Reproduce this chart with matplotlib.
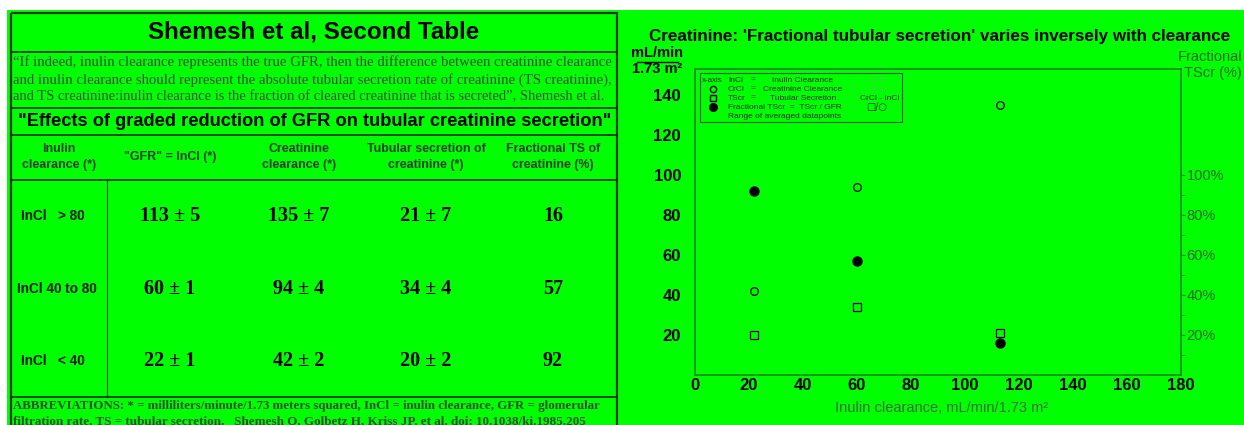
import matplotlib
matplotlib.use('Agg')
import matplotlib.pyplot as plt
from matplotlib.patches import Rectangle

plt.rcParams['font.family'] = ['Liberation Sans', 'DejaVu Sans']

W, H = 1244, 425
BG = '#00ff00'
DARK = '#0b3d0b'
FRAME = '#1a7f1a'

# ---------------- data ----------------
inulin_clearance = [113, 60, 22]
inulin_sd = [5, 1, 1]
creatinine_clearance = [135, 94, 42]
creatinine_sd = [7, 4, 2]
tubular_secretion = [21, 34, 20]
tubular_sd = [7, 4, 2]
fractional_ts = [16, 57, 92]
row_labels = ['InCl   > 80', 'InCl 40 to 80', 'InCl   < 40']
header_labels = ['Inulin\nclearance (*)', '"GFR" = InCl (*)', 'Creatinine\nclearance (*)',
                 'Tubular secretion of\ncreatinine (*)', 'Fractional TS of\ncreatinine (%)']
quote_lines = [
    '\u201cIf indeed, inulin clearance represents the true GFR, then the difference between creatinine clearance',
    'and inulin clearance should represent the absolute tubular secretion rate of creatinine (TS creatinine),',
    'and TS creatinine:inulin clearance is the fraction of cleared creatinine that is secreted\u201d, Shemesh et al.',
]
abbrev_lines = [
    'ABBREVIATIONS: * = milliliters/minute/1.73 meters squared, InCl = inulin clearance, GFR = glomerular',
    'filtration rate, TS = tubular secretion.   Shemesh O, Golbetz H, Kriss JP, et al. doi: 10.1038/ki.1985.205',
]
x_ticks = [0, 20, 40, 60, 80, 100, 120, 140, 160, 180]
y_ticks = [20, 40, 60, 80, 100, 120, 140]
pct_ticks = [20, 40, 60, 80, 100]
pct_minor = [10, 30, 50, 70, 90]

fig = plt.figure(figsize=(W / 100, H / 100), dpi=100, facecolor=BG)
ov = fig.add_axes([0, 0, 1, 1])
ov.set_xlim(0, W)
ov.set_ylim(H, 0)
ov.axis('off')
renderer = fig.canvas.get_renderer()


def fit(t, width):
    bb = t.get_window_extent(renderer)
    t.set_fontsize(t.get_fontsize() * width / bb.width)
    return t


# white margins
ov.add_patch(Rectangle((0, 0), W, 9.5, facecolor='white', edgecolor='none', zorder=0))
ov.add_patch(Rectangle((0, 0), 7, H, facecolor='white', edgecolor='none', zorder=0))

# ---------------- table ----------------
L, R = 11, 617
ov.add_patch(Rectangle((L, 13), R - L, 440, facecolor='none', edgecolor=DARK, lw=1.6, zorder=2))
for yy in [52, 108, 135, 180, 397]:
    ov.plot([L, R], [yy, yy], color=DARK, lw=1.3, zorder=2)
ov.plot([107, 107], [180, 397], color=DARK, lw=0.8, zorder=2)

t = ov.text(314, 32, 'Shemesh et al, Second Table', ha='center', va='center',
            fontsize=16, fontweight='bold', color='black')
fit(t, 330)

for yy, line in zip([62, 80, 97], quote_lines):
    t = ov.text(13, yy, line, ha='left', va='center', fontsize=9,
                family='Liberation Serif', color='#3c4a3c')
    fit(t, 598)

t = ov.text(315, 121, '"Effects of graded reduction of GFR on tubular creatinine secretion"',
            ha='center', va='center', fontsize=12, fontweight='bold', color='black')
fit(t, 592)

col_x = [59, 170, 299, 426, 553]
for cx, lab in zip(col_x, header_labels):
    ov.text(cx, 157, lab, ha='center', va='center', fontsize=8.9, fontweight='bold',
            color='#223e22', linespacing=1.4)

row_y = [216, 289, 361]
for i, yy in enumerate(row_y):
    ov.text(21 if i != 1 else 17, yy, row_labels[i], ha='left', va='center', fontsize=9.8,
            fontweight='bold', color='#0a1a0a')
    vals = [f'{inulin_clearance[i]} \u00b1 {inulin_sd[i]}',
            f'{creatinine_clearance[i]} \u00b1 {creatinine_sd[i]}',
            f'{tubular_secretion[i]} \u00b1 {tubular_sd[i]}',
            f'{fractional_ts[i]}']
    for cx, v in zip(col_x[1:], vals):
        ov.text(cx, yy, v, ha='center', va='center', fontsize=14.5, fontweight='bold',
                family='Liberation Serif', color='black')

for yy, line in zip([406, 421], abbrev_lines):
    t = ov.text(13, yy, line, ha='left', va='center', fontsize=9, fontweight='bold',
                family='Liberation Serif', color='#2a4f2a')
    fit(t, 585 if yy == 406 else 570)

# ---------------- chart ----------------
ax_l, ax_r, ax_t, ax_b = 695, 1181, 69, 375
ax = fig.add_axes([ax_l / W, (H - ax_b) / H, (ax_r - ax_l) / W, (ax_b - ax_t) / H], facecolor='none')
ax.set_xlim(0, 180)
ax.set_ylim(0, (ax_b - ax_t) / 2)
for s in ax.spines.values():
    s.set_color(FRAME)
    s.set_linewidth(1.1)

ax.plot(inulin_clearance, creatinine_clearance, 'o', ms=5.5, mfc='none', mec='black', mew=0.9, ls='none')
ax.plot(inulin_clearance, tubular_secretion, 's', ms=6, mfc='none', mec='black', mew=0.9, ls='none')
ax.plot(inulin_clearance, fractional_ts, 'o', ms=6.5, mfc='black', mec='black', ls='none')

ax.set_xticks(x_ticks)
ax.set_xticklabels([str(v) for v in x_ticks], fontweight='bold', fontsize=12)
ax.set_yticks(y_ticks)
ax.set_yticklabels([str(v) for v in y_ticks], fontweight='bold', fontsize=12)
ax.tick_params(axis='both', length=0, colors='black')
ax.tick_params(axis='y', pad=10)
ax.tick_params(axis='x', pad=2)

ax2 = ax.twinx()
ax2.set_ylim(ax.get_ylim())
ax2.set_yticks(pct_ticks)
ax2.set_yticklabels([f'{v}%' for v in pct_ticks], fontsize=10.5, color='#136b13')
ax2.set_yticks(pct_minor, minor=True)
ax2.tick_params(axis='y', which='both', length=3, color=FRAME, pad=1)
for s in ax2.spines.values():
    s.set_visible(False)

fig.text(940 / W, 1 - 36 / H,
         "Creatinine: 'Fractional tubular secretion' varies inversely with clearance",
         ha='center', va='center', fontsize=12, fontweight='bold', color='black')
ft = fig.texts[-1]
fit(ft, 576)

fig.text(942 / W, 1 - 408 / H, 'Inulin clearance, mL/min/1.73 m\u00b2', ha='center', va='center',
         fontsize=10.5, color='#3d6b3d')

# y-unit fraction
ov.text(657, 53, 'mL/min', ha='center', va='center', fontsize=10.5, fontweight='bold', color='black')
ov.plot([637, 678], [61.5, 61.5], color='black', lw=1.0)
ov.text(657, 69, '1.73 m\u00b2', ha='center', va='center', fontsize=10.5, fontweight='bold', color='black')

ov.text(1242, 57, 'Fractional', ha='right', va='center', fontsize=10.5, color='#136b13')
ov.text(1242, 73, 'TScr (%)', ha='right', va='center', fontsize=10.5, color='#136b13')

# legend box
ov.add_patch(Rectangle((700, 73), 202, 49, facecolor='none', edgecolor='#1a5a1a', lw=0.8, zorder=3))
leg_fs = 6.0
LC = '#1c2c1c'
FAINT = '#3fd43f'
rows_y = [80, 89, 98, 107, 116]
ov.text(702, rows_y[0], 'x-axis', ha='left', va='center', fontsize=leg_fs - 0.3, color=LC)
for yy, a, b in zip(rows_y[:3], ['InCl', 'CrCl', 'TScr'],
                    ['Inulin Clearance', 'Creatinine Clearance', 'Tubular Secretion']):
    ov.text(728, yy, a, ha='left', va='center', fontsize=leg_fs, color=LC)
    ov.text(753, yy, '=', ha='center', va='center', fontsize=leg_fs, color=LC)
    ov.text(803, yy, b, ha='center', va='center', fontsize=leg_fs, color=LC)
for yy in rows_y[:4]:
    ov.text(853, yy, '=', ha='center', va='center', fontsize=leg_fs, color=FAINT)
ov.text(877, rows_y[0], 'GFR', ha='center', va='center', fontsize=leg_fs, color=FAINT)
ov.text(877, rows_y[1], 'GFR', ha='center', va='center', fontsize=leg_fs, color=FAINT)
ov.text(880, rows_y[2], 'CrCl - InCl', ha='center', va='center', fontsize=leg_fs, color=LC)
ov.text(877, rows_y[3], '\u25a1/\u25cb', ha='center', va='center', fontsize=leg_fs + 1, color=LC,
        family=['DejaVu Sans'])
ov.text(728, rows_y[3], 'Fractional TScr  =  TScr / GFR', ha='left', va='center', fontsize=leg_fs, color=LC)
ov.text(728, rows_y[4], 'Range of averaged datapoints', ha='left', va='center', fontsize=leg_fs, color=LC)
ov.plot([713], [rows_y[1]], 'o', ms=4.5, mfc='none', mec='black', mew=1.0)
ov.plot([713], [rows_y[2]], 's', ms=5, mfc='none', mec='black', mew=1.0)
ov.plot([713], [rows_y[3]], 'o', ms=5.5, mfc='black', mec='black')

fig.savefig('out.png', dpi=100, facecolor=BG)
